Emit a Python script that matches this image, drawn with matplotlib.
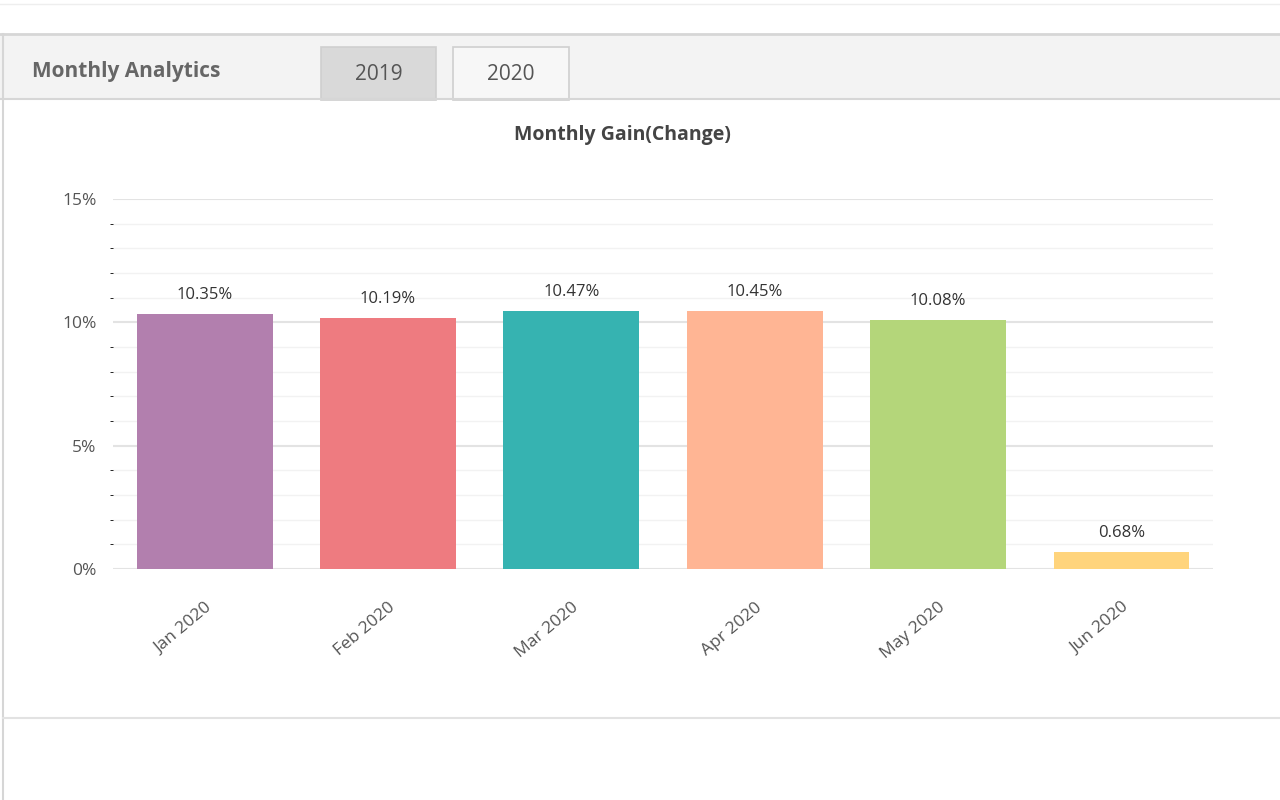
import matplotlib
matplotlib.use("Agg")
import matplotlib.pyplot as plt
from matplotlib.patches import Rectangle
from matplotlib.lines import Line2D

plt.rcParams["font.family"] = "Open Sans"

months = ["Jan 2020", "Feb 2020", "Mar 2020", "Apr 2020", "May 2020", "Jun 2020"]
gains = [10.35, 10.19, 10.47, 10.45, 10.08, 0.68]
colors = ["#b27fae", "#ee7b80", "#36b3b1", "#ffb594", "#b4d67a", "#ffd47c"]
yticks = [0, 5, 10, 15]
ytick_labels = ["0%", "5%", "10%", "15%"]
tabs = ["2019", "2020"]

fig = plt.figure(figsize=(12.8, 8.0), dpi=100)
W, H = 1280, 800
def fx(x): return x / W
def fy(y): return 1 - y / H

# panel frame
fig.add_artist(Rectangle((fx(0), fy(800)), 1, fy(35) - fy(800), transform=fig.transFigure,
                         facecolor="white", edgecolor="none", zorder=0))
fig.add_artist(Rectangle((fx(0), fy(100)), 1, fy(35) - fy(100), transform=fig.transFigure,
                         facecolor="#f3f3f3", edgecolor="none", zorder=0))
fig.add_artist(Line2D([0, 1], [fy(34), fy(34)], transform=fig.transFigure, color="#d6d6d6", lw=2))
fig.add_artist(Line2D([0, 1], [fy(4), fy(4)], transform=fig.transFigure, color="#eeeeee", lw=1))
fig.add_artist(Line2D([0, 1], [fy(99), fy(99)], transform=fig.transFigure, color="#d6d6d6", lw=1.5))
fig.add_artist(Line2D([fx(3), fx(3)], [fy(34), 0], transform=fig.transFigure, color="#d6d6d6", lw=1.5))
fig.add_artist(Line2D([fx(3), 1], [fy(718), fy(718)], transform=fig.transFigure, color="#e2e2e2", lw=1.5))
fig.text(fx(32), fy(72), "Monthly Analytics", fontsize=15, fontweight="bold", color="#666666", va="center")
tab_x = [(321, 436, "#d9d9d9"), (453, 569, "#f7f7f7")]
for (x0, x1, c), t in zip(tab_x, tabs):
    fig.add_artist(Rectangle((fx(x0), fy(100)), fx(x1 - x0), fy(47) - fy(100), transform=fig.transFigure,
                             facecolor=c, edgecolor="#cfcfcf", lw=1.2))
    fig.text(fx((x0 + x1) / 2), fy(75), t, fontsize=15, color="#555555", ha="center", va="center")

fig.text(fx(622), fy(135), "Monthly Gain(Change)", fontsize=14, fontweight="bold",
         color="#444444", ha="center", va="center")

ax = fig.add_axes([fx(113), fy(569), fx(1213 - 113), fy(199) - fy(569)])
x = list(range(len(months)))
ax.bar(x, gains, width=0.74, color=colors, zorder=3)
for xi, g in zip(x, gains):
    ax.annotate(f"{g:.2f}%", (xi, g), xytext=(0, 8), textcoords="offset points",
                ha="center", va="bottom", fontsize=12, color="#333333")
ax.set_xlim(-0.5, len(months) - 0.5)
ax.set_ylim(0, 15)
ax.set_yticks(yticks)
ax.set_yticklabels(ytick_labels)
ax.set_yticks(range(0, 16), minor=True)
ax.grid(axis="y", which="major", color="#e3e3e3", lw=1.5, zorder=0)
ax.grid(axis="y", which="minor", color="#f2f2f2", lw=1, zorder=0)
ax.set_xticks(x)
ax.set_xticklabels(months, rotation=40, ha="right", rotation_mode="anchor")
ax.tick_params(axis="both", length=0, labelsize=12.5, labelcolor="#555555")
ax.tick_params(axis="x", pad=22)
ax.tick_params(axis="y", pad=12)
for s in ax.spines.values():
    s.set_visible(False)

fig.savefig("out.png", dpi=100)
